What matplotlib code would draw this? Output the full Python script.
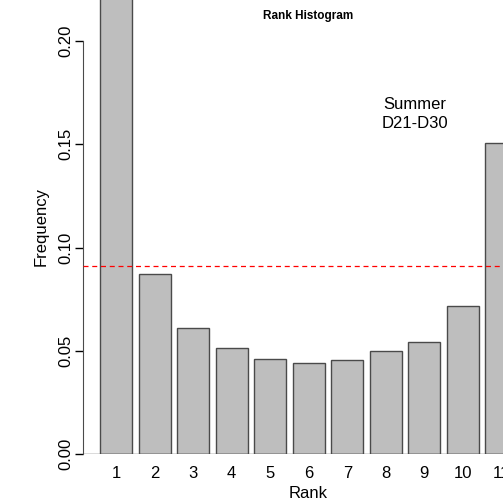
import matplotlib
matplotlib.use("Agg")
import matplotlib.pyplot as plt

plt.rcParams['font.family'] = ['Liberation Sans', 'DejaVu Sans']

ranks = [1, 2, 3, 4, 5, 6, 7, 8, 9, 10, 11]
freq = [0.339, 0.0870, 0.0612, 0.0512, 0.0458, 0.0442, 0.0454, 0.0497, 0.0544, 0.0717, 0.1508]
ref_level = 1.0 / 11
yticks = [0.00, 0.05, 0.10, 0.15, 0.20]
title = "Rank Histogram"
annot = "Summer\nD21-D30"

W, H = 503, 499
fig = plt.figure(figsize=(W / 100, H / 100), dpi=100)
ax_left, ax_bottom = 83 / W, (H - 454) / H
ax = fig.add_axes([ax_left, ax_bottom, 1 - ax_left, 1 - ax_bottom])

# R barplot geometry: width 1, space 0.2
centers = [0.2 + 0.5 + i * 1.2 for i in range(len(ranks))]
ax.bar(centers, freq, width=1.0, color='#bebebe', edgecolor='#4a4a4a', linewidth=1.0, zorder=2)
ax.axhline(0, color='#4a4a4a', lw=1.0, zorder=3)
ax.axhline(ref_level, color='red', ls=(0, (4, 3)), lw=0.9, zorder=4)

ax.set_xlim(-0.33, 12.75)
ax.set_ylim(0, 0.2199)

for s in ['top', 'right', 'bottom']:
    ax.spines[s].set_visible(False)
ax.spines['left'].set_bounds(0, 0.20)
ax.spines['left'].set_color('#4a4a4a')
ax.set_yticks(yticks)
ax.set_yticklabels([f"{v:.2f}" for v in yticks], rotation=90, va='center', fontsize=12)
ax.tick_params(axis='y', length=6, width=1, pad=1, colors='black')
ax.set_xticks(centers)
ax.set_xticklabels([str(r) for r in ranks], fontsize=12)
ax.tick_params(axis='x', length=0, pad=9)
ax.set_xlabel("Rank", fontsize=12)
ax.xaxis.set_label_coords((308 - 83) / (W - 83), -(493 - 454) / 454, transform=ax.transAxes)
ax.xaxis.label.set_va('center')
ax.set_ylabel("Frequency", fontsize=12, labelpad=7)

fig.text(308 / W, 1 - 16 / H, title, ha='center', va='center', fontsize=8.5, fontweight='bold')
fig.text(415 / W, 1 - 114 / H, annot, ha='center', va='center', fontsize=12, linespacing=1.35)

fig.savefig("out.png", dpi=100)
